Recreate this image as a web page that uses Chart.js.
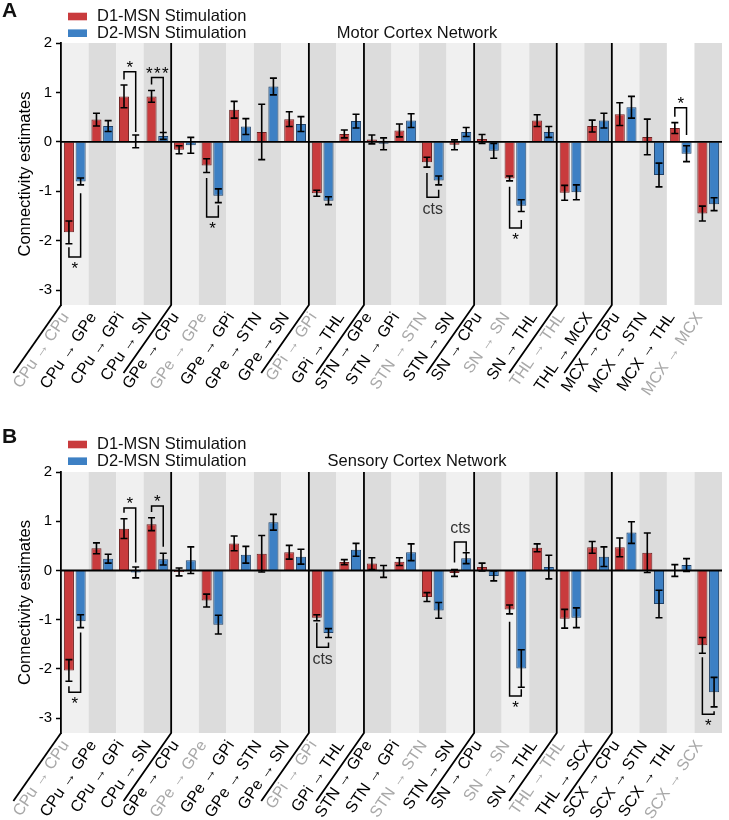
<!DOCTYPE html>
<html>
<head>
    <meta charset="UTF-8">
    <title>Connectivity estimates</title>
    <script src="https://cdn.jsdelivr.net/npm/chart.js"></script>
    <style>
        body { margin: 0; background: #fff; }
        canvas { display: block; }
    </style>
</head>
<body>
<canvas id="motorChart" width="729" height="400"></canvas>
<canvas id="sensoryChart" width="729" height="420"></canvas>
<script>
    // categories (connections)
    const motorLabels = ['CPu → CPu', 'CPu → GPe', 'CPu → GPi', 'CPu → SN', 'GPe → CPu', 'GPe → GPe', 'GPe → GPi', 'GPe → STN', 'GPe → SN',
        'GPi → GPi', 'GPi → THL', 'STN → GPe', 'STN → GPi', 'STN → STN', 'STN → SN', 'SN → CPu', 'SN → SN', 'SN → THL',
        'THL → THL', 'THL → MCX', 'MCX → CPu', 'MCX → STN', 'MCX → THL', 'MCX → MCX'];
    const sensoryLabels = ['CPu → CPu', 'CPu → GPe', 'CPu → GPi', 'CPu → SN', 'GPe → CPu', 'GPe → GPe', 'GPe → GPi', 'GPe → STN', 'GPe → SN',
        'GPi → GPi', 'GPi → THL', 'STN → GPe', 'STN → GPi', 'STN → STN', 'STN → SN', 'SN → CPu', 'SN → SN', 'SN → THL',
        'THL → THL', 'THL → SCX', 'SCX → CPu', 'SCX → STN', 'SCX → THL', 'SCX → SCX'];
    const selfConnections = [0, 5, 9, 13, 16, 18, 23];
    const groupStarts = [4, 9, 11, 15, 18, 20];
    const yTicks = [2, 1, 0, -1, -2, -3];

    // Motor cortex network
    const motorD1 = [-1.83, 0.45, 0.92, 0.92, -0.16, -0.48, 0.65, 0.20, 0.46, -1.04, 0.16, 0.05, 0.23, -0.41, -0.06, 0.06, -0.74, 0.43, -1.03, 0.32, 0.56, 0.10, 0.28, -1.45];
    const motorD1Err = [0.23, 0.13, 0.23, 0.12, 0.08, 0.14, 0.17, 0.56, 0.15, 0.06, 0.08, 0.09, 0.13, 0.10, 0.10, 0.09, 0.05, 0.12, 0.15, 0.12, 0.23, 0.36, 0.11, 0.15];
    const motorD2 = [-0.80, 0.32, 0.01, 0.12, -0.07, -1.09, 0.31, 1.12, 0.36, -1.19, 0.42, -0.04, 0.43, -0.78, 0.20, -0.18, -1.29, 0.20, -1.02, 0.43, 0.70, -0.67, -0.24, -1.26];
    const motorD2Err = [0.07, 0.11, 0.13, 0.07, 0.16, 0.14, 0.16, 0.17, 0.15, 0.08, 0.14, 0.12, 0.14, 0.09, 0.09, 0.15, 0.12, 0.11, 0.15, 0.15, 0.22, 0.24, 0.16, 0.13];

    // Sensory cortex network
    const sensoryD1 = [-2.03, 0.45, 0.85, 0.94, -0.03, -0.61, 0.55, 0.34, 0.37, -0.96, 0.17, 0.14, 0.18, -0.54, -0.05, 0.07, -0.79, 0.46, -0.98, 0.47, 0.47, 0.36, 0.00, -1.52];
    const sensoryD1Err = [0.22, 0.11, 0.20, 0.13, 0.08, 0.13, 0.15, 0.37, 0.14, 0.06, 0.05, 0.12, 0.08, 0.09, 0.07, 0.08, 0.09, 0.08, 0.19, 0.12, 0.19, 0.40, 0.12, 0.16];
    const sensoryD2 = [-1.03, 0.24, -0.04, 0.23, 0.21, -1.10, 0.32, 0.98, 0.28, -1.27, 0.42, -0.02, 0.37, -0.81, 0.25, -0.11, -1.99, 0.07, -0.96, 0.28, 0.77, -0.68, 0.11, -2.47];
    const sensoryD2Err = [0.13, 0.09, 0.11, 0.12, 0.27, 0.19, 0.17, 0.16, 0.15, 0.09, 0.13, 0.12, 0.17, 0.16, 0.11, 0.10, 0.38, 0.24, 0.20, 0.20, 0.22, 0.28, 0.13, 0.30];

    // significance brackets: from1 = D1 side start, from2 = D2 side start (data units)
    const motorBrackets = [
        {cat: 0, side: 'below', from1: -2.13, from2: -1.04, level: -2.33, text: '*'},
        {cat: 2, side: 'above', from1: 1.26, from2: 0.20, level: 1.42, text: '*'},
        {cat: 3, side: 'above', from1: 1.16, from2: 0.20, level: 1.30, text: '***'},
        {cat: 5, side: 'below', from1: -0.73, from2: -1.28, level: -1.52, text: '*'},
        {cat: 13, side: 'below', from1: -0.63, from2: -0.97, level: -1.12, text: 'cts'},
        {cat: 16, side: 'below', from1: -0.91, from2: -1.58, level: -1.74, text: '*'},
        {cat: 22, side: 'above', from1: 0.51, from2: 0.14, level: 0.69, text: '*'}
    ];
    const sensoryBrackets = [
        {cat: 0, side: 'below', from1: -2.35, from2: -1.26, level: -2.47, text: '*'},
        {cat: 2, side: 'above', from1: 1.17, from2: 0.16, level: 1.27, text: '*'},
        {cat: 3, side: 'above', from1: 1.19, from2: 0.48, level: 1.31, text: '*'},
        {cat: 9, side: 'below', from1: -1.06, from2: -1.46, level: -1.56, text: 'cts'},
        {cat: 14, side: 'above', from1: 0.16, from2: 0.38, level: 0.58, text: 'cts'},
        {cat: 16, side: 'below', from1: -1.04, from2: -2.41, level: -2.55, text: '*'},
        {cat: 23, side: 'below', from1: -1.76, from2: -2.86, level: -2.92, text: '*'}
    ];

    const FONT = '"Liberation Sans", Arial, Helvetica, sans-serif';
    const RED = '#c93b3d', RED_EDGE = '#6e2020';
    const BLUE = '#3d80c4', BLUE_EDGE = '#1f4168';

    function decorPlugin(cfg) {
        return {
            id: 'decor',
            beforeDraw(chart) {
                const ctx = chart.ctx, x = chart.scales.x, a = chart.chartArea;
                ctx.save();
                for (let i = 0; i < chart.data.labels.length; i++) {
                    const x0 = x.getPixelForValue(i - 0.5), x1 = x.getPixelForValue(i + 0.5);
                    let c = i % 2 ? '#dcdcdc' : '#f0f0f0';
                    if (cfg.whiteBands.includes(i)) c = '#ffffff';
                    ctx.fillStyle = c;
                    ctx.fillRect(x0, a.top, x1 - x0, a.bottom - a.top);
                }
                ctx.restore();
            },
            afterDatasetsDraw(chart) {
                const ctx = chart.ctx, y = chart.scales.y, a = chart.chartArea;
                ctx.save();
                // zero line
                ctx.strokeStyle = '#000';
                ctx.lineWidth = 1.8;
                ctx.beginPath();
                ctx.moveTo(a.left, y.getPixelForValue(0));
                ctx.lineTo(a.right, y.getPixelForValue(0));
                ctx.stroke();

                // error bars
                ctx.lineWidth = 1.6;
                chart.data.datasets.forEach((ds, di) => {
                    const meta = chart.getDatasetMeta(di);
                    meta.data.forEach((bar, i) => {
                        const top = y.getPixelForValue(ds.data[i] + ds.errors[i]);
                        const bot = y.getPixelForValue(ds.data[i] - ds.errors[i]);
                        ctx.beginPath();
                        ctx.moveTo(bar.x, top); ctx.lineTo(bar.x, bot);
                        ctx.moveTo(bar.x - 3.5, top); ctx.lineTo(bar.x + 3.5, top);
                        ctx.moveTo(bar.x - 3.5, bot); ctx.lineTo(bar.x + 3.5, bot);
                        ctx.stroke();
                    });
                });

                // brackets
                const m1 = chart.getDatasetMeta(0), m2 = chart.getDatasetMeta(1);
                ctx.lineWidth = 1.5;
                cfg.brackets.forEach(b => {
                    const x1 = m1.data[b.cat].x, x2 = m2.data[b.cat].x;
                    const ly = y.getPixelForValue(b.level);
                    ctx.strokeStyle = '#000';
                    ctx.beginPath();
                    ctx.moveTo(x1, y.getPixelForValue(b.from1));
                    ctx.lineTo(x1, ly);
                    ctx.lineTo(x2, ly);
                    ctx.lineTo(x2, y.getPixelForValue(b.from2));
                    ctx.stroke();
                    const isStar = b.text.indexOf('*') >= 0;
                    ctx.font = (isStar ? '17px ' : '16px ') + FONT;
                    ctx.fillStyle = isStar ? '#000' : '#333';
                    ctx.textAlign = 'center';
                    ctx.textBaseline = 'alphabetic';
                    let ty;
                    if (b.side === 'below') ty = ly + 17;
                    else ty = isStar ? ly + 1 : ly - 9;
                    const cx = (x1 + x2) / 2;
                    if (isStar) {
                        // stars are spaced a little wider than the font does
                        const n = b.text.length;
                        for (let k = 0; k < n; k++) ctx.fillText('*', cx + (k - (n - 1) / 2) * 8, ty);
                    } else {
                        ctx.fillText(b.text, cx, ty);
                    }
                });
                ctx.restore();
            },
            afterDraw(chart) {
                const ctx = chart.ctx, x = chart.scales.x, a = chart.chartArea;
                const ang = 55 * Math.PI / 180, dy = 68, dx = dy / Math.tan(ang);
                ctx.save();
                ctx.strokeStyle = '#000';
                ctx.lineWidth = 1.8;
                // y axis diagonal
                ctx.beginPath();
                ctx.moveTo(a.left, a.bottom);
                ctx.lineTo(a.left - dx, a.bottom + dy);
                ctx.stroke();
                // group separators
                groupStarts.forEach(g => {
                    const px = x.getPixelForValue(g - 0.5);
                    ctx.beginPath();
                    ctx.moveTo(px, a.top);
                    ctx.lineTo(px, a.bottom);
                    ctx.lineTo(px - dx, a.bottom + dy);
                    ctx.stroke();
                });

                // legend
                ctx.textAlign = 'left';
                ctx.textBaseline = 'middle';
                ctx.font = '16.5px ' + FONT;
                chart.data.datasets.forEach((ds, di) => {
                    const cy = cfg.legendY + di * 16.7;
                    ctx.fillStyle = ds.backgroundColor;
                    ctx.fillRect(68, cy - 3.8, 19, 7.6);
                    ctx.fillStyle = '#111';
                    ctx.fillText(ds.label, 97, cy);
                });

                // title
                ctx.textAlign = 'center';
                ctx.fillText(cfg.title, 417, cfg.legendY + 16.7);

                // panel letter
                ctx.font = 'bold 21px ' + FONT;
                ctx.textAlign = 'left';
                ctx.textBaseline = 'alphabetic';
                ctx.fillText(cfg.letter, 2, cfg.letterY);
                ctx.restore();
            }
        };
    }

    function makePanel(id, labels, d1, d1Err, d2, d2Err, cfg) {
        const ctx = document.getElementById(id).getContext('2d');
        return new Chart(ctx, {
            type: 'bar',
            data: {
                labels: labels,
                datasets: [{
                    label: 'D1-MSN Stimulation',
                    data: d1,
                    errors: d1Err,
                    backgroundColor: RED,
                    borderColor: RED_EDGE,
                    borderWidth: 1,
                    categoryPercentage: 0.85,
                    barPercentage: 0.86
                }, {
                    label: 'D2-MSN Stimulation',
                    data: d2,
                    errors: d2Err,
                    backgroundColor: BLUE,
                    borderColor: BLUE_EDGE,
                    borderWidth: 1,
                    categoryPercentage: 0.85,
                    barPercentage: 0.86
                }]
            },
            options: {
                responsive: false,
                animation: false,
                devicePixelRatio: 1,
                layout: { padding: { top: cfg.top, right: 7, left: 0, bottom: 0 } },
                plugins: {
                    legend: { display: false },
                    tooltip: { enabled: false }
                },
                scales: {
                    x: {
                        grid: { display: false },
                        border: { display: false },
                        ticks: {
                            autoSkip: false,
                            minRotation: 56,
                            maxRotation: 56,
                            padding: -4,
                            labelOffset: -9,
                            font: { family: FONT, size: 16 },
                            color: c => selfConnections.includes(c.index) ? '#a8a8a8' : '#000'
                        },
                        afterFit: s => { s.height = cfg.xHeight; }
                    },
                    y: {
                        min: -3.3,
                        max: 2,
                        afterBuildTicks: s => { s.ticks = yTicks.map(v => ({ value: v })); },
                        grid: { drawOnChartArea: false, tickLength: 5, tickColor: '#000', tickWidth: 1.5 },
                        border: { color: '#000', width: 1.8 },
                        ticks: { color: '#000', padding: 4, font: { family: FONT, size: 15 } },
                        title: {
                            display: true,
                            text: 'Connectivity estimates',
                            color: '#000',
                            padding: { top: 16, bottom: 0 },
                            font: { family: FONT, size: 16.5 }
                        },
                        afterFit: s => { s.width = 61; }
                    }
                }
            },
            plugins: [decorPlugin(cfg)]
        });
    }

    makePanel('motorChart', motorLabels, motorD1, motorD1Err, motorD2, motorD2Err, {
        top: 43, xHeight: 95, letter: 'A', letterY: 17, legendY: 16.5,
        title: 'Motor Cortex Network', brackets: motorBrackets, whiteBands: [22]
    });
    makePanel('sensoryChart', sensoryLabels, sensoryD1, sensoryD1Err, sensoryD2, sensoryD2Err, {
        top: 72, xHeight: 87, letter: 'B', letterY: 43, legendY: 44.5,
        title: 'Sensory Cortex Network', brackets: sensoryBrackets, whiteBands: []
    });
</script>
</body>
</html>
